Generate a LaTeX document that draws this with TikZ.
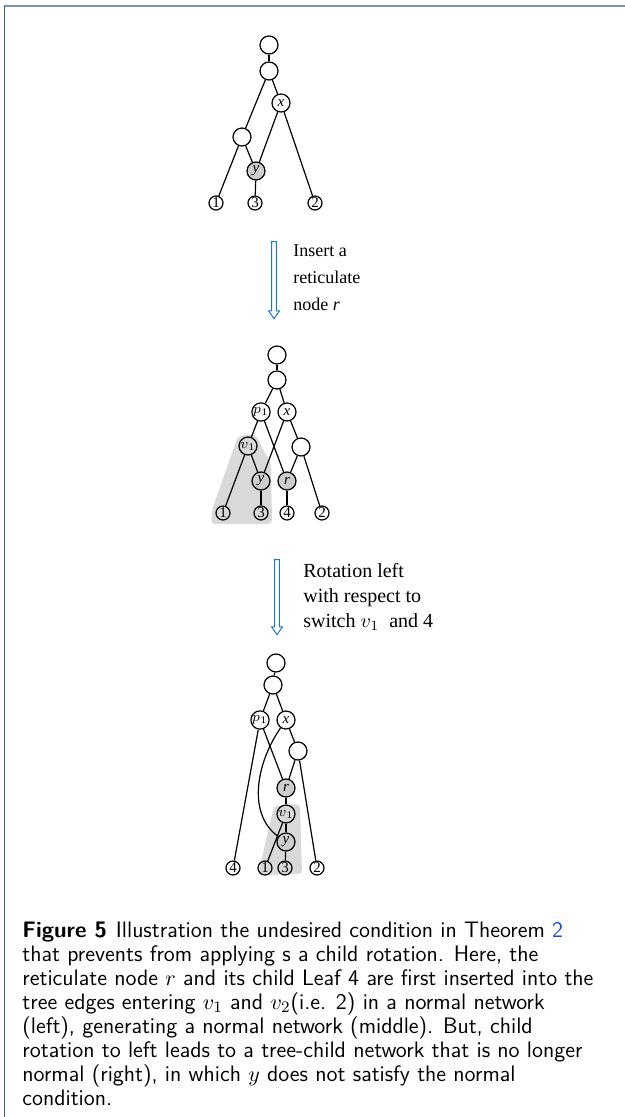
\documentclass[tikz,border=0pt]{standalone}
\usepackage{fontspec}
\setmainfont{Liberation Serif}
\usetikzlibrary{shapes.arrows}
\definecolor{frameTop}{RGB}{125, 150, 178}
\definecolor{frameLeft}{RGB}{60, 100, 150}
\definecolor{arrowBlue}{RGB}{30, 120, 200}
\definecolor{linkBlue}{RGB}{20, 80, 225}
\definecolor{markGrey}{RGB}{205, 205, 205}
\definecolor{shadeGrey}{RGB}{217, 217, 217}
\newcommand{\capText}{%
    \textbf{Figure 5}\hspace{0.4em}Illustration the undesired condition in Theorem \textcolor{linkBlue}{2}\\
    that prevents from applying s a child rotation. Here, the\\
    reticulate node $r$ and its child Leaf 4 are first inserted into the\\
    tree edges entering $v_1$ and $v_2$(i.e. 2) in a normal network\\
    (left), generating a normal network (middle). But, child\\
    rotation to left leads to a tree-child network that is no longer\\
    normal (right), in which $y$ does not satisfy the normal\\
    condition.}

\begin{document}
\begin{tikzpicture} [
        x=0.5pt, y=-0.5pt,
        inner/.style={draw, circle, line width=0.6pt, minimum size=9pt, inner sep=0pt, font=\fontsize{7.5}{7.5}\selectfont\itshape},
        leaf/.style={draw, circle, line width=0.6pt, minimum size=7pt, inner sep=0pt, font=\fontsize{7.5}{7.5}\selectfont},
        marked/.style={fill=markGrey},
        edge/.style={line width=0.6pt},
        shade/.style={fill=shadeGrey, rounded corners=2pt},
        step arrow/.style={single arrow, draw=arrowBlue, line width=0.5pt, shape border rotate=270, inner sep=0.9pt, minimum width=0pt, single arrow head extend=1.6pt, single arrow tip angle=70},
        step label/.style={align=left, anchor=base west, inner sep=0pt},
    ]
    \useasboundingbox (0,0) rectangle (625,1117);

    % frame
    \draw[frameTop, line width=0.75pt] (4,6) -- (625,6);
    \draw[frameLeft, line width=0.75pt] (4.5,5) -- (4.5,1117);

    % left network
    \node[inner] (a0) at (269,45) {};
    \node[inner] (a1) at (269,71) {};
    \node[inner] (ax) at (281,103) {x};
    \node[inner] (au) at (242,137) {};
    \node[inner, marked] (ay) at (256,171) {y};
    \node[leaf] (aL1) at (216,203) {1};
    \node[leaf] (aL3) at (255,203) {3};
    \node[leaf] (aL2) at (315,203) {2};
    \foreach \a/\b in {a0/a1, a1/au, a1/ax, au/aL1, au/ay, ax/ay, ax/aL2, ay/aL3}
        \draw[edge] (\a) -- (\b);

    \node[step arrow, minimum height=38.5pt] (step1) at (274,278.5) {};
    \node[step label, font=\fontsize{9}{13.5}\selectfont] (step1 text) at (293,311) {Insert a\\reticulate\\node \textit{r}};

    % middle network
    \fill[shade] (238,436) -- (255,434) -- (271,464) -- (272,524) -- (211,524) -- (212,510) -- cycle;
    \node[inner] (b0) at (277,355) {};
    \node[inner] (b1) at (277,380) {};
    \node[inner] (bp) at (261,412) {$p_1$};
    \node[inner] (bx) at (287,412) {x};
    \node[inner] (bv) at (248,446) {$v_1$};
    \node[inner] (bu) at (301,447) {};
    \node[inner, marked] (by) at (261,481) {y};
    \node[inner, marked] (br) at (287,481) {r};
    \node[leaf] (bL1) at (223,513) {1};
    \node[leaf] (bL3) at (261,513) {3};
    \node[leaf] (bL4) at (287,513) {4};
    \node[leaf] (bL2) at (322,513) {2};
    \foreach \a/\b in {b0/b1, b1/bp, b1/bx, bp/bv, bp/br, bx/by, bx/bu, bv/bL1, bv/by, bu/br, bu/bL2, by/bL3, br/bL4}
        \draw[edge] (\a) -- (\b);

    \node[step arrow, minimum height=37.5pt] (step2) at (277,595.5) {};
    \node[step label, font=\fontsize{10}{12.5}\selectfont] (step2 text) at (303,627) {Rotation left\\with respect to\\switch $v_1$\ \ and 4};

    % right network
    \fill[shade] (274,806) -- (300,804) -- (302,874) -- (258,875) -- cycle;
    \node[inner] (c0) at (276,663) {};
    \node[inner] (c1) at (273,685) {};
    \node[inner] (cp) at (260,720) {$p_1$};
    \node[inner] (cx) at (286,720) {x};
    \node[inner] (cu) at (298,751) {};
    \node[inner, marked] (cr) at (286,788) {r};
    \node[inner] (cv) at (286,814) {$v_1$};
    \node[inner, marked] (cy) at (286,842) {y};
    \node[leaf] (cL4) at (233,868) {4};
    \node[leaf] (cL1) at (265,868) {1};
    \node[leaf] (cL3) at (285,868) {3};
    \node[leaf] (cL2) at (317,868) {2};
    \foreach \a/\b in {c0/c1, c1/cp, c1/cx, cp/cL4, cp/cr, cx/cu, cu/cr, cu/cL2, cr/cv, cv/cL1, cv/cy, cy/cL3}
        \draw[edge] (\a) -- (\b);
    \draw[edge] (cx) .. controls (255,765) and (248,815) .. (cy);

    % caption
    \node[align=left, anchor=base west, inner sep=0pt, font=\sffamily\fontsize{11.2}{12}\selectfont] (caption) at (22,1105) {\capText};
\end{tikzpicture}
\end{document}
